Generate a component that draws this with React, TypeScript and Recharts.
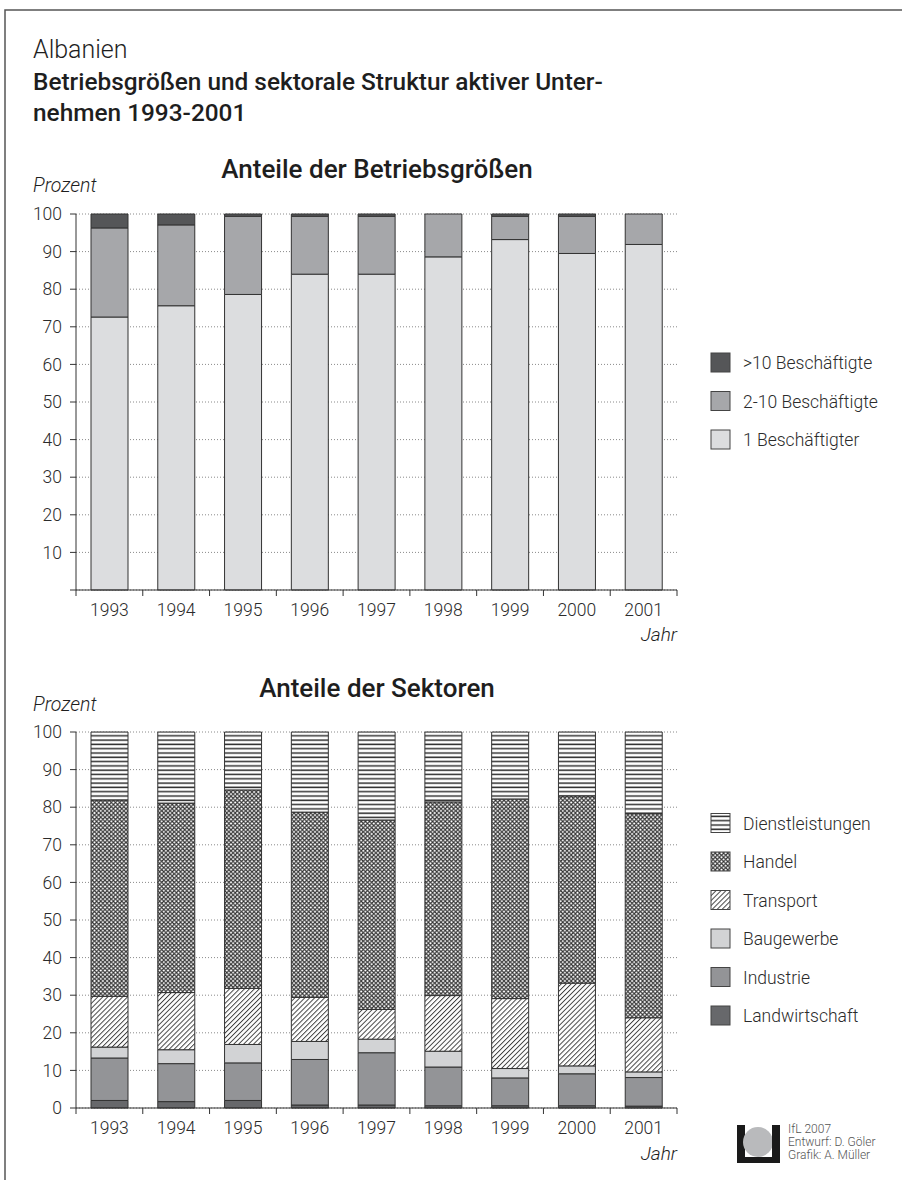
import { BarChart, Bar, XAxis, YAxis, CartesianGrid } from 'recharts';

const years = ['1993', '1994', '1995', '1996', '1997', '1998', '1999', '2000', '2001'];

// Anteile der Betriebsgrößen (Prozent)
const einBeschaeftigter = [72.6, 75.6, 78.6, 84.0, 84.0, 88.6, 93.2, 89.5, 91.9];
const zweiBisZehn = [23.7, 21.5, 20.8, 15.4, 15.4, 11.4, 6.2, 9.9, 8.1];
const ueberZehn = [3.7, 2.9, 0.6, 0.6, 0.6, 0, 0.6, 0.6, 0];

// Anteile der Sektoren (Prozent)
const landwirtschaft = [2.0, 1.7, 2.0, 0.8, 0.8, 0.6, 0.6, 0.6, 0.5];
const industrie = [11.3, 10.1, 10.0, 12.1, 13.9, 10.3, 7.4, 8.5, 7.6];
const baugewerbe = [2.9, 3.7, 4.9, 4.8, 3.6, 4.2, 2.5, 2.1, 1.5];
const transport = [13.5, 15.2, 14.9, 11.7, 7.9, 14.8, 18.6, 22.0, 14.4];
const handel = [52.2, 50.4, 52.8, 49.3, 50.4, 51.5, 53.1, 49.8, 54.3];
const dienstleistungen = [18.1, 18.9, 15.4, 21.3, 23.4, 18.6, 17.8, 17.0, 21.7];

const topTicks = [0, 10, 20, 30, 40, 50, 60, 70, 80, 90, 100];
const bottomTicks = [0, 10, 20, 30, 40, 50, 60, 70, 80, 90, 100];

const groessenData = years.map((year, i) => ({
  year,
  eins: einBeschaeftigter[i],
  zwei: zweiBisZehn[i],
  zehn: ueberZehn[i],
}));

const sektorenData = years.map((year, i) => ({
  year,
  landw: landwirtschaft[i],
  ind: industrie[i],
  bau: baugewerbe[i],
  trans: transport[i],
  handel: handel[i],
  dienst: dienstleistungen[i],
}));

const FONT = 'Roboto, "Liberation Sans", Arial, sans-serif';
const INK = '#2b2b2b';
const PLOT_LEFT = 76;
const PLOT_RIGHT = 677;
const CHART_W = 700;

const groessenSeries = [
  { key: 'eins', name: '1 Beschäftigter', fill: '#dcdddf' },
  { key: 'zwei', name: '2-10 Beschäftigte', fill: '#a6a7aa' },
  { key: 'zehn', name: '>10 Beschäftigte', fill: '#555658' },
];

const sektorenSeries = [
  { key: 'landw', name: 'Landwirtschaft', fill: '#67686b' },
  { key: 'ind', name: 'Industrie', fill: '#939497' },
  { key: 'bau', name: 'Baugewerbe', fill: '#d2d3d5' },
  { key: 'trans', name: 'Transport', fill: 'url(#pTransport)' },
  { key: 'handel', name: 'Handel', fill: 'url(#pHandel)' },
  { key: 'dienst', name: 'Dienstleistungen', fill: 'url(#pDienst)' },
];

function Patterns() {
  return (
    <svg width={0} height={0} style={{ position: 'absolute' }}>
      <defs>
        <pattern id="pDienst" width={4} height={4.3} patternUnits="userSpaceOnUse">
          <rect width={4} height={4.3} fill="#fff" />
          <line x1={0} y1={2} x2={4} y2={2} stroke="#2e2e2e" strokeWidth={1.5} />
        </pattern>
        <pattern id="pHandel" width={4.2} height={4.2} patternUnits="userSpaceOnUse">
          <rect width={4.2} height={4.2} fill="#fff" />
          <path d="M0,0 L4.2,4.2 M0,4.2 L4.2,0" stroke="#333" strokeWidth={1.1} />
        </pattern>
        <pattern
          id="pTransport"
          width={3.5}
          height={3.5}
          patternUnits="userSpaceOnUse"
          patternTransform="rotate(45)"
        >
          <rect width={3.5} height={3.5} fill="#fff" />
          <line x1={0.5} y1={0} x2={0.5} y2={3.5} stroke="#333" strokeWidth={0.9} />
        </pattern>
      </defs>
    </svg>
  );
}

function YearTick(props: any) {
  const { x, y, payload, index } = props;
  const band = (PLOT_RIGHT - PLOT_LEFT) / years.length;
  return (
    <g>
      <line x1={x - band / 2} x2={x - band / 2} y1={y} y2={y + 6} stroke="#333" />
      {index === years.length - 1 && (
        <line x1={x + band / 2} x2={x + band / 2} y1={y} y2={y + 6} stroke="#333" />
      )}
      <text x={x} y={y + 26} textAnchor="middle" fill={INK} fontSize={17.5} fontWeight={300} fontFamily={FONT}>
        {payload.value}
      </text>
    </g>
  );
}

function StackChart({
  data,
  series,
  ticks,
  hideZero,
  top,
}: {
  data: any[];
  series: { key: string; name: string; fill: string }[];
  ticks: number[];
  hideZero: boolean;
  top: number;
}) {
  return (
    <div style={{ position: 'absolute', left: 0, top }}>
      <BarChart
        width={CHART_W}
        height={435}
        data={data}
        margin={{ top: 24, right: CHART_W - PLOT_RIGHT, left: 36, bottom: 5 }}
        barSize={37}
      >
        <CartesianGrid horizontal vertical={false} stroke="#8a8a8a" strokeDasharray="1 2" />
        <XAxis
          dataKey="year"
          stroke="#333"
          tickLine={false}
          tickSize={0}
          tickMargin={0}
          height={30}
          tick={<YearTick />}
          interval={0}
        />
        <YAxis
          domain={[0, 100]}
          ticks={ticks}
          width={40}
          stroke="#333"
          tickSize={6}
          tickMargin={8}
          interval={0}
          tickFormatter={(v: number) => (hideZero && v === 0 ? '' : String(v))}
          tick={{ fill: INK, fontSize: 17.5, fontWeight: 300, fontFamily: FONT }}
        />
        {series.map((s) => (
          <Bar
            key={s.key}
            dataKey={s.key}
            name={s.name}
            stackId="a"
            fill={s.fill}
            stroke="#333"
            strokeWidth={1}
            isAnimationActive={false}
          />
        ))}
      </BarChart>
    </div>
  );
}

function LegendBlock({
  series,
  x,
  y,
}: {
  series: { key: string; name: string; fill: string }[];
  x: number;
  y: number;
}) {
  return (
    <g>
      {series.map((s, i) => (
        <g key={s.key} transform={`translate(${x}, ${y + i * 38.5})`}>
          <rect x={0} y={-9.5} width={19} height={19} fill={s.fill} stroke="#444" strokeWidth={1} />
          <text x={32} y={6.5} fill={INK} fontSize={17.5} fontWeight={300} fontFamily={FONT}>
            {s.name}
          </text>
        </g>
      ))}
    </g>
  );
}

export default function App() {
  return (
    <div style={{ position: 'absolute', left: 0, top: 0, width: 902, height: 1180, background: '#fff' }}>
      <Patterns />
      <StackChart data={groessenData} series={groessenSeries} ticks={topTicks} hideZero top={190} />
      <StackChart data={sektorenData} series={sektorenSeries} ticks={bottomTicks} hideZero={false} top={708} />
      <svg width={902} height={1180} style={{ position: 'absolute', left: 0, top: 0, pointerEvents: 'none' }}>
        <path d="M5,1180 L5,10 L902,10" fill="none" stroke="#555" strokeWidth={1.5} />
        <g fontFamily={FONT} fill="#1e1e1e">
          <text x={33} y={58} fontSize={25} fontWeight={300}>Albanien</text>
          <text x={33} y={90} fontSize={24.4} fontWeight={500}>Betriebsgrößen und sektorale Struktur aktiver Unter-</text>
          <text x={33} y={121} fontSize={24.4} fontWeight={500}>nehmen 1993-2001</text>
          <text x={377} y={178} fontSize={26} fontWeight={500} textAnchor="middle">Anteile der Betriebsgrößen</text>
          <text x={33} y={192} fontSize={19.5} fontStyle="italic" fontWeight={300}>Prozent</text>
          <text x={677} y={641} fontSize={19} fontStyle="italic" fontWeight={300} textAnchor="end">Jahr</text>
          <text x={377} y={697} fontSize={26} fontWeight={500} textAnchor="middle">Anteile der Sektoren</text>
          <text x={33} y={711} fontSize={19.5} fontStyle="italic" fontWeight={300}>Prozent</text>
          <text x={677} y={1160} fontSize={19} fontStyle="italic" fontWeight={300} textAnchor="end">Jahr</text>
        </g>
        <LegendBlock series={[...groessenSeries].reverse()} x={711} y={362.5} />
        <LegendBlock series={[...sektorenSeries].reverse()} x={711} y={823} />
        <g>
          <rect x={737} y={1125} width={8} height={38} fill="#1a1a1a" />
          <circle cx={758} cy={1142} r={15} fill="#b9babc" />
          <rect x={772} y={1125} width={8} height={38} fill="#1a1a1a" />
          <rect x={745} y={1157} width={27} height={6} fill="#1a1a1a" />
          <g fontFamily={FONT} fontSize={12} fontWeight={300} fill="#555">
            <text x={788} y={1133}>IfL 2007</text>
            <text x={788} y={1146}>Entwurf: D. Göler</text>
            <text x={788} y={1159}>Grafik: A. Müller</text>
          </g>
        </g>
      </svg>
    </div>
  );
}
